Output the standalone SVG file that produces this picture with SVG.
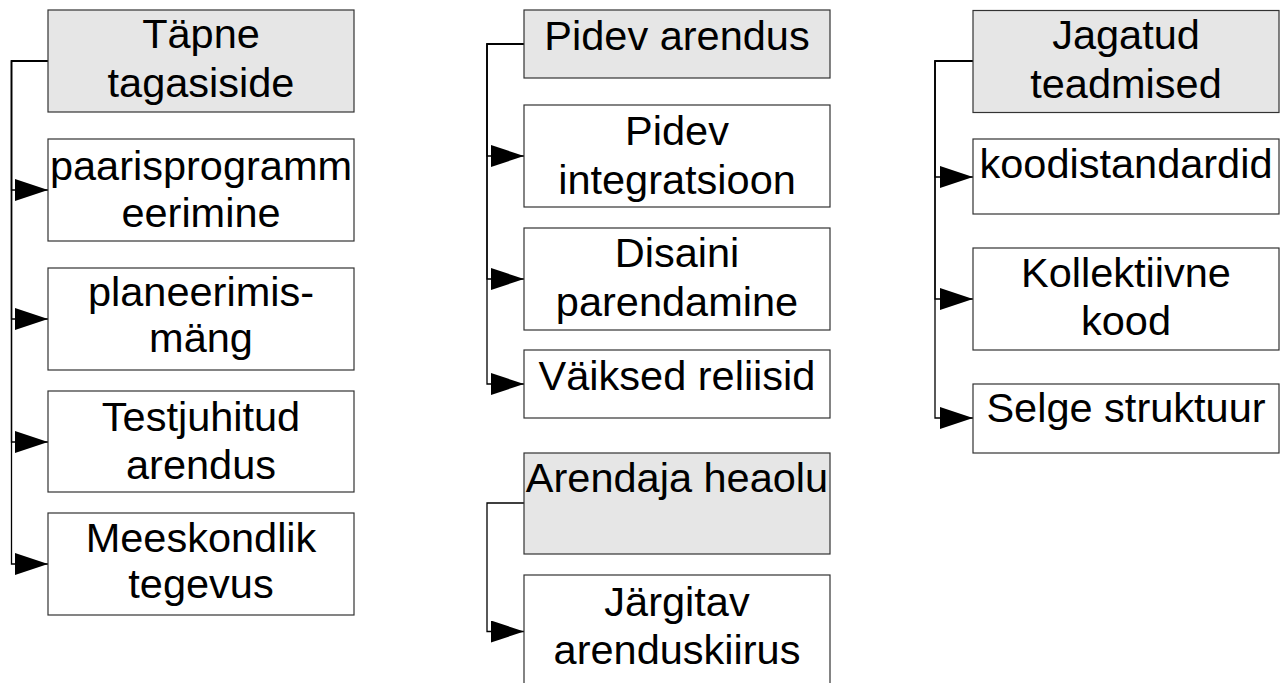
<svg xmlns="http://www.w3.org/2000/svg" width="1285" height="683" viewBox="0 0 1285 683">
<style>
.box{fill:#ffffff;stroke:#333333;stroke-width:1.2}
.hdr{fill:#e6e6e6;stroke:#333333;stroke-width:1.2}
.t{font-family:"Liberation Sans",Arial,sans-serif;font-size:41.5px;fill:#000000;text-anchor:middle}
.c{fill:none;stroke:#000000;stroke-width:1.3}
</style>
<defs>
<marker id="arr" viewBox="0 0 33 22" refX="33" refY="11" markerWidth="33" markerHeight="22" markerUnits="userSpaceOnUse" orient="auto">
<path d="M0,0 L33,11 L0,22 Z" fill="#000000"/>
</marker>
</defs>
<g id="connectors">
<path class="c" d="M48,61 H11.5 V190 H48" marker-end="url(#arr)"/>
<path class="c" d="M48,61 H11.5 V319 H48" marker-end="url(#arr)"/>
<path class="c" d="M48,61 H11.5 V442 H48" marker-end="url(#arr)"/>
<path class="c" d="M48,61 H11.5 V564 H48" marker-end="url(#arr)"/>
<path class="c" d="M524,44 H487 V156 H524" marker-end="url(#arr)"/>
<path class="c" d="M524,44 H487 V279 H524" marker-end="url(#arr)"/>
<path class="c" d="M524,44 H487 V384 H524" marker-end="url(#arr)"/>
<path class="c" d="M524,503 H487 V631.5 H524" marker-end="url(#arr)"/>
<path class="c" d="M973,61 H935 V177 H973" marker-end="url(#arr)"/>
<path class="c" d="M973,61 H935 V299 H973" marker-end="url(#arr)"/>
<path class="c" d="M973,61 H935 V418 H973" marker-end="url(#arr)"/>
</g>
<g id="n-tapne">
<rect class="hdr" x="48" y="10" width="306" height="102"/>
<text class="t" x="201" y="48">Täpne</text>
<text class="t" x="201" y="97">tagasiside</text>
</g>
<g id="n-paaris">
<rect class="box" x="48" y="139" width="306" height="102"/>
<text class="t" x="201" y="180">paarisprogramm</text>
<text class="t" x="201" y="227">eerimine</text>
</g>
<g id="n-planeerimis">
<rect class="box" x="48" y="268" width="306" height="102"/>
<text class="t" x="201" y="306">planeerimis-</text>
<text class="t" x="201" y="352">mäng</text>
</g>
<g id="n-testjuhitud">
<rect class="box" x="48" y="391" width="306" height="101"/>
<text class="t" x="201" y="431">Testjuhitud</text>
<text class="t" x="201" y="479">arendus</text>
</g>
<g id="n-meeskondlik">
<rect class="box" x="48" y="513" width="306" height="102"/>
<text class="t" x="201" y="552">Meeskondlik</text>
<text class="t" x="201" y="598">tegevus</text>
</g>
<g id="n-pidev-arendus">
<rect class="hdr" x="524" y="10" width="306" height="68"/>
<text class="t" x="677" y="50">Pidev arendus</text>
</g>
<g id="n-pidev-integratsioon">
<rect class="box" x="524" y="105" width="306" height="102"/>
<text class="t" x="677" y="145">Pidev</text>
<text class="t" x="677" y="194">integratsioon</text>
</g>
<g id="n-disaini">
<rect class="box" x="524" y="228" width="306" height="102"/>
<text class="t" x="677" y="267">Disaini</text>
<text class="t" x="677" y="316">parendamine</text>
</g>
<g id="n-vaiksed">
<rect class="box" x="524" y="350" width="306" height="68"/>
<text class="t" x="677" y="390">Väiksed reliisid</text>
</g>
<g id="n-arendaja">
<rect class="hdr" x="524" y="453" width="306" height="101"/>
<text class="t" x="677" y="492">Arendaja heaolu</text>
</g>
<g id="n-jargitav">
<rect class="box" x="524" y="575" width="306" height="113"/>
<text class="t" x="677" y="616">Järgitav</text>
<text class="t" x="677" y="664">arenduskiirus</text>
</g>
<g id="n-jagatud">
<rect class="hdr" x="973" y="10.5" width="306" height="102"/>
<text class="t" x="1126" y="49">Jagatud</text>
<text class="t" x="1126" y="98">teadmised</text>
</g>
<g id="n-koodistandardid">
<rect class="box" x="973" y="139" width="306" height="75"/>
<text class="t" x="1126" y="178">koodistandardid</text>
</g>
<g id="n-kollektiivne">
<rect class="box" x="973" y="248" width="306" height="102"/>
<text class="t" x="1126" y="287">Kollektiivne</text>
<text class="t" x="1126" y="335">kood</text>
</g>
<g id="n-selge">
<rect class="box" x="973" y="384" width="306" height="69"/>
<text class="t" x="1126" y="422">Selge struktuur</text>
</g>
</svg>
